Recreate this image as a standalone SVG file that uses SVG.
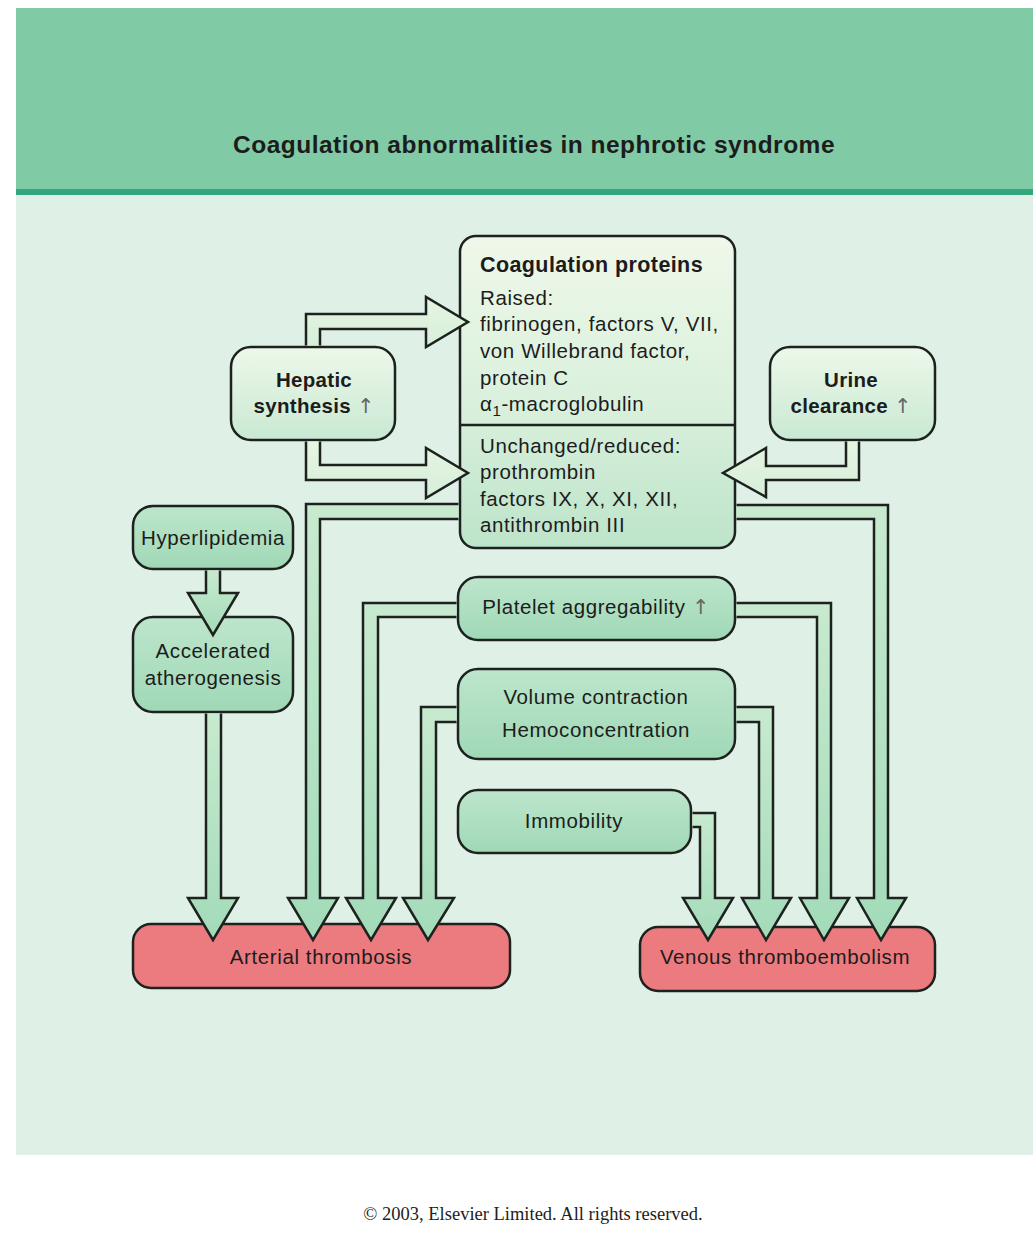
<svg xmlns="http://www.w3.org/2000/svg" width="1033" height="1247" viewBox="0 0 1033 1247">
<defs>
<linearGradient id="gLight" x1="0" y1="0" x2="0" y2="1"><stop offset="0" stop-color="#eef8ea"/><stop offset="1" stop-color="#c8e9d3"/></linearGradient>
<linearGradient id="gCoag" x1="0" y1="0" x2="0" y2="1"><stop offset="0" stop-color="#eff8ea"/><stop offset="0.55" stop-color="#d9f0dc"/><stop offset="1" stop-color="#bde4ca"/></linearGradient>
<linearGradient id="gMid" x1="0" y1="0" x2="0" y2="1"><stop offset="0" stop-color="#bde6cc"/><stop offset="1" stop-color="#9fd8b6"/></linearGradient>
<linearGradient id="gArrow" x1="0" y1="0" x2="0" y2="1"><stop offset="0" stop-color="#c8eacf"/><stop offset="1" stop-color="#a2dbb9"/></linearGradient>
<linearGradient id="gArrowLight" x1="0" y1="0" x2="0" y2="1"><stop offset="0" stop-color="#e6f5e2"/><stop offset="1" stop-color="#d6efda"/></linearGradient>
</defs>
<style>
.box{stroke:#1e221f;stroke-width:2.5}
.red{fill:#ec7b80;stroke:#1e221f;stroke-width:2.5}
.conn{fill:url(#gArrow);stroke:#1e221f;stroke-width:2.5;stroke-linejoin:miter}
.connL{fill:url(#gArrowLight);stroke:#1e221f;stroke-width:2.5;stroke-linejoin:miter}
.t{font-family:"Liberation Sans",Arial,sans-serif;font-size:20.5px;letter-spacing:0.6px;fill:#1c1c1c}
.c{text-anchor:middle}
.b{font-weight:bold}
.up{font-family:"DejaVu Sans",sans-serif;font-weight:normal;fill:#666}
</style>
<rect x="0" y="0" width="1033" height="1247" fill="#ffffff"/>
<rect x="16" y="8" width="1017" height="1147" fill="#dff1e6"/>
<rect x="16" y="8" width="1017" height="181" fill="#80cba6"/>
<rect x="16" y="189" width="1017" height="6" fill="#31a67f"/>
<text x="534" y="153" class="t c b" style="font-size:24.5px;letter-spacing:0.5px">Coagulation abnormalities in nephrotic syndrome</text>

<g id="coag-proteins">
<rect x="460" y="236" width="275" height="312" rx="16" fill="url(#gCoag)" class="box"/>
<line x1="460" y1="425" x2="735" y2="425" stroke="#1e221f" stroke-width="2.5"/>
<text x="480" y="272" class="t b" style="font-size:21.5px;letter-spacing:0.4px">Coagulation proteins</text>
<text x="480" y="305" class="t">Raised:</text>
<text x="480" y="331" class="t">fibrinogen, factors V, VII,</text>
<text x="480" y="358" class="t">von Willebrand factor,</text>
<text x="480" y="385" class="t">protein C</text>
<text x="480" y="411" class="t">α<tspan dy="5" style="font-size:15px">1</tspan><tspan dy="-5">-macroglobulin</tspan></text>
<text x="480" y="453" class="t">Unchanged/reduced:</text>
<text x="480" y="479" class="t">prothrombin</text>
<text x="480" y="506" class="t">factors IX, X, XI, XII,</text>
<text x="480" y="532" class="t">antithrombin III</text>
</g>

<g id="hepatic-synthesis">
<rect x="231" y="347" width="164" height="93" rx="20" fill="url(#gLight)" class="box"/>
<text x="314" y="387" class="t c b" style="letter-spacing:0.3px">Hepatic</text>
<text x="314" y="413" class="t c b" style="letter-spacing:0.3px">synthesis <tspan class="up">↑</tspan></text>
</g>

<g id="urine-clearance">
<rect x="770" y="347" width="165" height="93" rx="20" fill="url(#gLight)" class="box"/>
<text x="851" y="387" class="t c b" style="letter-spacing:0.3px">Urine</text>
<text x="851" y="413" class="t c b" style="letter-spacing:0.3px">clearance <tspan class="up">↑</tspan></text>
</g>

<g id="hyperlipidemia">
<rect x="133" y="506" width="160" height="63" rx="20" fill="url(#gMid)" class="box"/>
<text x="213" y="545" class="t c">Hyperlipidemia</text>
</g>

<g id="accelerated-atherogenesis">
<rect x="133" y="617" width="160" height="95" rx="20" fill="url(#gMid)" class="box"/>
<text x="213" y="658" class="t c">Accelerated</text>
<text x="213" y="685" class="t c">atherogenesis</text>
</g>

<g id="platelet-aggregability">
<rect x="458" y="577" width="277" height="63" rx="20" fill="url(#gMid)" class="box"/>
<text x="596" y="614" class="t c">Platelet aggregability <tspan class="up">↑</tspan></text>
</g>

<g id="volume-contraction">
<rect x="458" y="669" width="277" height="90" rx="20" fill="url(#gMid)" class="box"/>
<text x="596" y="704" class="t c">Volume contraction</text>
<text x="596" y="737" class="t c">Hemoconcentration</text>
</g>

<g id="immobility">
<rect x="458" y="790" width="233" height="63" rx="20" fill="url(#gMid)" class="box"/>
<text x="574" y="828" class="t c">Immobility</text>
</g>

<g id="arterial-thrombosis">
<rect x="133" y="924" width="377" height="64" rx="18" class="red"/>
<text x="321" y="964" class="t c">Arterial thrombosis</text>
</g>

<g id="venous-thromboembolism">
<rect x="640" y="927" width="295" height="64" rx="18" class="red"/>
<text x="785" y="964" class="t c">Venous thromboembolism</text>
</g>

<g id="connectors">
<path class="connL" d="M306,345.5 V314 H426 V297 L468,322 L426,347 V329 H320 V345.5"/>
<path class="connL" d="M306,441.5 V480 H426 V498 L468,473 L426,448 V465 H320 V441.5"/>
<path class="connL" d="M859,441.5 V480 H766 V497 L723,473 L766,448 V466 H846 V441.5"/>
<path class="conn" d="M458.5,504 H306 V898 H288 L313,940 L338,898 H320 V519 H458.5"/>
<path class="conn" d="M736.5,505 H888 V898 H906 L881,940 L857,898 H874 V519 H736.5"/>
<path class="conn" d="M456.5,603 H363 V898 H346 L371,940 L396,898 H378 V617 H456.5"/>
<path class="conn" d="M736.5,603 H831 V898 H849 L824,940 L800,898 H817 V617 H736.5"/>
<path class="conn" d="M456.5,707 H421 V898 H403 L428,940 L454,898 H436 V722 H456.5"/>
<path class="conn" d="M736.5,707 H773 V898 H791 L766,940 L742,898 H759 V722 H736.5"/>
<path class="conn" d="M692.5,813 H715 V898 H733 L708,940 L683,898 H700 V827 H692.5"/>
<path class="conn" d="M206,713.5 V898 H188 L213,940 L238,898 H221 V713.5"/>
<path class="conn" d="M206,570.5 V593 H188 L213,635 L238,593 H220 V570.5"/>
</g>

<text x="533" y="1220" style="font-family:'Liberation Serif','Times New Roman',serif;font-size:18.5px;fill:#222" text-anchor="middle">© 2003, Elsevier Limited. All rights reserved.</text>
</svg>
